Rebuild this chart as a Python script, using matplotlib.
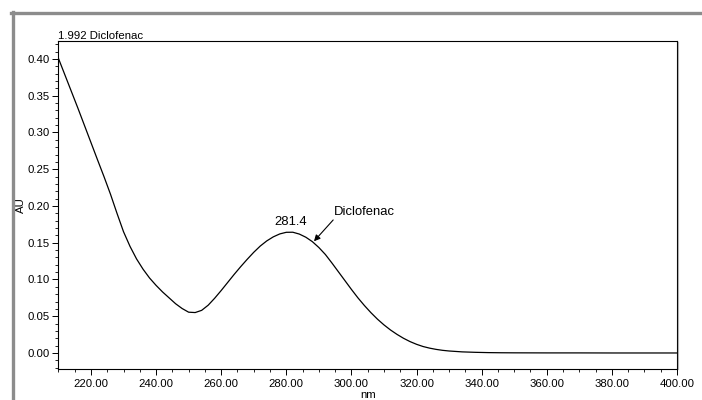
import matplotlib
matplotlib.use("Agg")
import matplotlib.pyplot as plt
from matplotlib.lines import Line2D
from matplotlib.ticker import MultipleLocator, FormatStrFormatter

# ---- data ----
wavelength_nm = [210, 213, 216, 219, 222, 224, 226, 228, 230, 232, 234, 236, 238,
                 240, 242, 244, 246, 248, 250, 252, 254, 256, 258, 260, 262, 264,
                 266, 268, 270, 272, 274, 276, 278, 280, 282, 284, 286, 288, 290,
                 292, 294, 296, 298, 300, 302, 304, 306, 308, 310, 312, 314, 316,
                 318, 320, 322, 324, 326, 328, 330, 334, 338, 342, 346, 350, 360,
                 370, 380, 390, 400]
absorbance_au = [0.401, 0.367, 0.333, 0.298, 0.263, 0.240, 0.216, 0.190, 0.165,
                 0.145, 0.128, 0.114, 0.102, 0.092, 0.083, 0.075, 0.067, 0.0605,
                 0.0555, 0.0550, 0.0580, 0.0650, 0.0745, 0.0850, 0.0960, 0.1070,
                 0.1175, 0.1275, 0.1370, 0.1455, 0.1525, 0.1580, 0.1620, 0.1642,
                 0.1643, 0.1618, 0.1575, 0.1515, 0.1435, 0.1340, 0.1225, 0.1105,
                 0.0985, 0.0865, 0.0750, 0.0645, 0.0548, 0.0460, 0.0382, 0.0313,
                 0.0253, 0.0200, 0.0155, 0.0118, 0.0088, 0.0066, 0.0049, 0.0036,
                 0.0027, 0.0015, 0.0009, 0.0005, 0.0003, 0.0002, 0.0001, 0.0001,
                 0.0000, 0.0000, 0.0000]
x_ticks = [220, 240, 260, 280, 300, 320, 340, 360, 380, 400]
y_ticks = [0.00, 0.05, 0.10, 0.15, 0.20, 0.25, 0.30, 0.35, 0.40]
title_text = "1.992 Diclofenac"
peak_label = "281.4"
peak_x, peak_y = 281.4, 0.1646
compound_label = "Diclofenac"
arrow_head = (288.5, 0.152)
arrow_tail = (294.4, 0.181)

plt.rcParams['font.family'] = ['Liberation Sans', 'DejaVu Sans']

fig = plt.figure(figsize=(7.02, 4.00), dpi=100)
fig.patch.set_facecolor('white')
W, H = 702.0, 400.0
ax = fig.add_axes([58.4 / W, 1 - 369 / H, (677 - 58.4) / W, (369 - 41) / H])

ax.plot(wavelength_nm, absorbance_au, color='black', lw=0.9)
ax.set_xlim(210, 400)
ax.set_ylim(-0.0218, 0.4245)

ax.set_xticks(x_ticks)
ax.set_yticks(y_ticks)
ax.xaxis.set_major_formatter(FormatStrFormatter('%.2f'))
ax.yaxis.set_major_formatter(FormatStrFormatter('%.2f'))
ax.xaxis.set_minor_locator(MultipleLocator(5))
ax.yaxis.set_minor_locator(MultipleLocator(0.01))
ax.tick_params(which='major', direction='out', length=4.5, width=0.7,
               labelsize=8.2, pad=2, colors='black')
ax.tick_params(which='minor', direction='out', length=2.2, width=0.6)
ax.tick_params(axis='x', which='major', pad=3)

for s in ax.spines.values():
    s.set_linewidth(0.8)
    s.set_color('black')

ax.set_ylabel('AU', fontsize=8.2, va='center')
ax.yaxis.set_label_coords((21 - 58.4) / (677 - 58.4), 0.5)
ax.set_xlabel('nm', fontsize=8.2, va='center')
ax.xaxis.set_label_coords(0.5, -(395 - 369) / (369 - 41))

ax.text(0.0, 1.0, title_text, transform=ax.transAxes, ha='left', va='bottom',
        fontsize=8.2)

ax.text(peak_x, peak_y + 0.006, peak_label, ha='center', va='bottom', fontsize=9.4)
ax.annotate('', xy=arrow_head, xytext=arrow_tail,
            arrowprops=dict(arrowstyle='-|>', color='black', lw=0.8,
                            mutation_scale=9, shrinkA=0, shrinkB=0))
ax.text(arrow_tail[0] + 0.3, arrow_tail[1] + 0.002, compound_label, ha='left',
        va='bottom', fontsize=9.4)

# grey frame around the picture (top and left edges visible)
gray = '#8c8c8c'
fig.add_artist(Line2D([11 / W, 1.0], [1 - 13 / H, 1 - 13 / H], color=gray,
                      lw=2.4, transform=fig.transFigure))
fig.add_artist(Line2D([12.5 / W, 12.5 / W], [0.0, 1 - 12 / H], color=gray,
                      lw=2.4, transform=fig.transFigure))
# light shadow to the right of the plot frame
fig.add_artist(Line2D([678.3 / W, 678.3 / W], [1 - 369 / H, 1 - 42 / H],
                      color='#b0b0b0', lw=0.8, transform=fig.transFigure))

fig.savefig('out.png', dpi=100, facecolor='white')
